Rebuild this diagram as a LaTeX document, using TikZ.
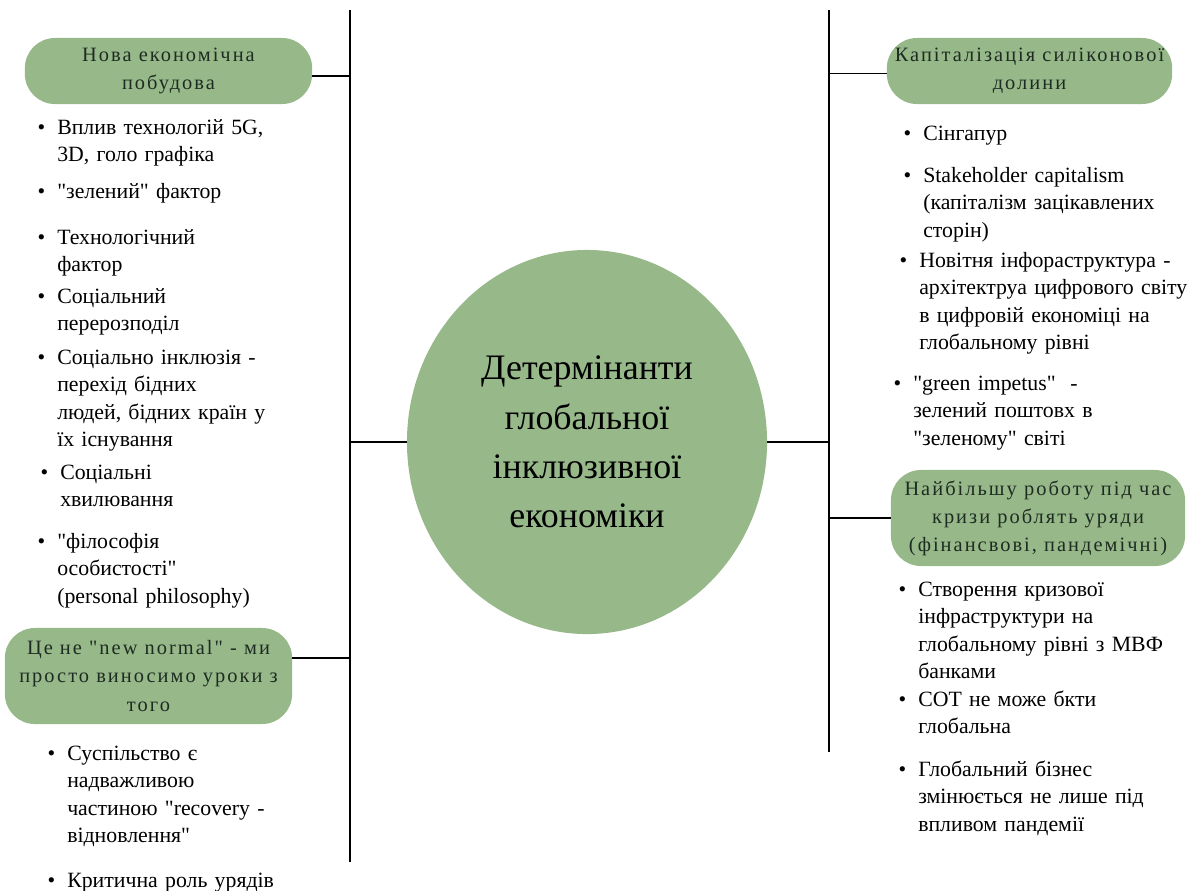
\documentclass[tikz,border=0pt]{standalone}
\usepackage{fontspec}
\setmainfont[Ligatures=TeXOff]{Liberation Serif}
\newfontfamily\hdfont[LetterSpace=10,Ligatures=TeXOff]{Liberation Serif}
\usetikzlibrary{shapes.geometric}
\definecolor{sage}{HTML}{97B98A}
\definecolor{ink}{HTML}{1E2B22}
\newcommand{\bul}{\makebox[0pt][r]{\textbullet\hspace{0.3cm}}}
\tikzset{
  head/.style={rectangle,rounded corners=0.75cm,fill=sage,draw=none,align=center,text=ink,
    font=\hdfont\fontsize{14.5}{20}\selectfont,minimum width=7.18cm,minimum height=1.65cm},
  item/.style={anchor=base west,inner sep=0pt,text width=7.5cm,align=left,
    font=\fontsize{15.5}{19.6}\selectfont},
  spine/.style={line width=1.2pt}
}

\begin{document}
\begin{tikzpicture}[x=0.025cm,y=-0.025cm]
\useasboundingbox (0,0) rectangle (1192,890);

% centre
\node[ellipse,fill=sage,minimum width=9cm,minimum height=9.6cm,align=center,
  font=\fontsize{25.5}{35}\selectfont] (core) at (587,442) {Детермінанти\\глобальної\\інклюзивної\\економіки};

\coordinate (ltop) at (350,10);
\coordinate (lbot) at (350,862);
\coordinate (rtop) at (829,10);
\coordinate (rbot) at (829,752);
\draw[spine] (ltop) -- (lbot);
\draw[spine] (rtop) -- (rbot);
\draw[spine] (core.west) -- (core.west -| ltop);
\draw[spine] (core.east) -- (core.east -| rtop);

% headers
\node[head] (nova) at (168.5,71) {Нова економічна\\побудова};
\node[head,minimum height=2.4cm] (cene) at (148.5,676) {Це не "new normal" - ми\\просто виносимо уроки з\\того};
\node[head,minimum width=7.13cm] (kap) at (1029.5,71) {Капіталізація силіконової\\долини};
\node[head,minimum width=7.35cm,minimum height=2.4cm] (uryad) at (1038,518) {Найбільшу роботу під час\\кризи роблять уряди\\(фінансвові, пандемічні)};

\draw[spine] (nova.-2) -- (nova.-2 -| ltop);
\draw[spine] (cene.7) -- (cene.7 -| ltop);
\draw[spine] (kap.181) -- (kap.181 -| rtop);
\draw[spine] (uryad.west) -- (uryad.west -| rtop);

% left column
\node[item] (ln1) at (57,134) {\bul Вплив технологій 5G,\\3D, голо графіка};
\node[item] (ln2) at (57,198) {\bul "зелений" фактор};
\node[item] (ln3) at (57,244) {\bul Технологічний\\фактор};
\node[item] (ln4) at (57,303) {\bul Соціальний\\перерозподіл};
\node[item] (ln5) at (57,364) {\bul Соціально інклюзія -\\перехід бідних\\людей, бідних країн у\\їх існування};
\node[item] (ln6) at (60,479) {\bul Соціальні\\хвилювання};
\node[item] (ln7) at (57,548) {\bul "філософія\\особистості"\\(personal philosophy)};

\node[item] (lb1) at (67,760) {\bul Суспільство є\\надважливою\\частиною "recovery -\\відновлення"};
\node[item] (lb2) at (67,887) {\bul Критична роль урядів};

% right column
\node[item] (rk1) at (923,140) {\bul Сінгапур};
\node[item] (rk2) at (923,182) {\bul Stakeholder capitalism\\(капіталізм зацікавлених\\сторін)};
\node[item] (rk3) at (919,267) {\bul Новітня інфораструктура -\\архітектруа цифрового світу\\в цифровій економіці на\\глобальному рівні};
\node[item] (rk4) at (913,390) {\bul "green impetus"\ \ -\\зелений поштовх в\\"зеленому" світі};

\node[item] (ru1) at (918,596) {\bul Створення кризової\\інфраструктури на\\глобальному рівні з МВФ\\банками};
\node[item] (ru2) at (918,706) {\bul СОТ не може бкти\\глобальна};
\node[item] (ru3) at (918,776) {\bul Глобальний бізнес\\змінюється не лише під\\впливом пандемії};
\end{tikzpicture}
\end{document}
